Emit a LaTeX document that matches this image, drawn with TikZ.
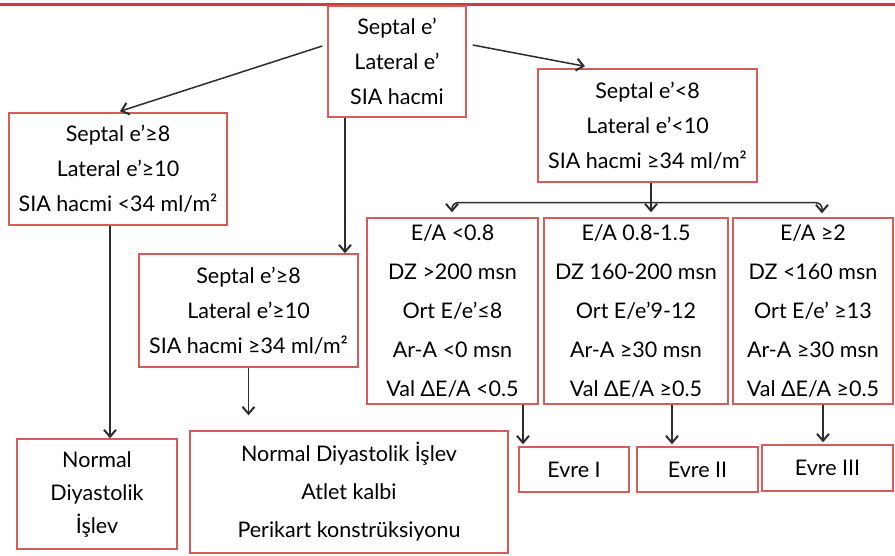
\documentclass[tikz,border=0pt]{standalone}
\usepackage{fontspec}
\setmainfont{Lato}
\usetikzlibrary{arrows.meta,calc}
\definecolor{boxred}{RGB}{214,92,92}
\definecolor{topred}{RGB}{200,62,62}
\definecolor{arrgray}{RGB}{45,45,45}
\begin{document}
\begin{tikzpicture}[x=1pt,y=-1pt,
  box/.style={draw=boxred, line width=1.4pt, fill=white, align=center, inner sep=0pt},
  f35/.style={font=\fontsize{21.5}{35}\selectfont},
  f39/.style={font=\fontsize{21.5}{39}\selectfont},
  f33/.style={font=\fontsize{21.5}{33}\selectfont},
  f38/.style={font=\fontsize{21.5}{38}\selectfont},
  arr/.style={draw=arrgray, line width=1.5pt, -{Straight Barb[length=7pt,width=12pt,line width=2pt]}}]
\fill[white] (0,0) rectangle (895,555);
\useasboundingbox (0,0) rectangle (895,555);
\draw[topred, line width=3pt] (0,4) -- (895,4);

\node[box,f35, minimum width=138, minimum height=111] (top) at (397,61.5) {Septal e’\\Lateral e’\\SIA hacmi};
\node[box,f35, minimum width=218, minimum height=112] (left) at (118,169) {Septal e’≥8\\Lateral e’≥10\\SIA hacmi <34 ml/m²};
\node[box,f35, minimum width=219, minimum height=113] (right) at (647.5,125.5) {Septal e’<8\\Lateral e’<10\\SIA hacmi ≥34 ml/m²};
\node[box,f35, minimum width=219, minimum height=113] (mid) at (248.5,310.5) {Septal e’≥8\\Lateral e’≥10\\SIA hacmi ≥34 ml/m²};

\node[box,f39, minimum width=171, minimum height=186] (A) at (452.5,311) {E/A <0.8\\DZ >200 msn\\Ort E/e’≤8\\Ar-A <0 msn\\Val ΔE/A <0.5};
\node[box,f39, minimum width=184, minimum height=186] (B) at (636,311) {E/A 0.8-1.5\\DZ 160-200 msn\\Ort E/e’9-12\\Ar-A ≥30 msn\\Val ΔE/A ≥0.5};
\node[box,f39, minimum width=160, minimum height=186] (C) at (813,311) {E/A ≥2\\DZ <160 msn\\Ort E/e’ ≥13\\Ar-A ≥30 msn\\Val ΔE/A ≥0.5};

\node[box,f35, minimum width=110, minimum height=45] (E1) at (574,469.5) {Evre I};
\node[box,f35, minimum width=121, minimum height=45] (E2) at (697.5,469.5) {Evre II};
\node[box,f35, minimum width=131, minimum height=46] (E3) at (827.5,468) {Evre III};

\node[box,f33, minimum width=160, minimum height=110] (normal) at (97,494) {Normal\\Diyastolik\\İşlev};
\node[box,f38, minimum width=318, minimum height=122] (big) at (349,492) {Normal Diyastolik İşlev\\Atlet kalbi\\Perikart konstrüksiyonu};

% connectors
\draw[arr] ($(top.west)+(-5,-15.5)$) -- ($(left.north)+(2,-1)$);
\draw[arr] ($(top.east)+(6,-16.5)$) -- ($(right.north)+(-62.5,-2)$);
\coordinate (t1) at ($(top.south)+(-52,0)$);
\draw[arr] (t1) -- (t1 |- mid.north);
\coordinate (l1) at ($(left.south)+(-8,0)$);
\draw[arr] (l1) -- (l1 |- normal.north);
\draw[arr] (mid.south) -- ($(mid.south |- big.north)+(0,-15)$);

\coordinate (r1) at ($(right.south)+(3.5,0)$);
\coordinate (hub) at ($(r1)+(0,20)$);
\draw[arr] (r1) -- ($(r1 |- B.north)+(0,-5)$);
\draw[arr, rounded corners=6] (hub) -| ($(A.north)+(-0.5,-5)$);
\draw[arr, rounded corners=6] (hub) -| ($(C.north)+(9,-4)$);

\coordinate (a1) at ($(A.south)+(70.5,0)$);
\draw[arr] (a1) -- ($(a1 |- E1.north)+(0,-2)$);
\coordinate (b1) at ($(B.south)+(36,0)$);
\draw[arr] (b1) -- ($(b1 |- E2.north)+(0,-2)$);
\coordinate (c1) at ($(C.south)+(10,0)$);
\draw[arr] (c1) -- ($(c1 |- E3.north)+(0,-2)$);
\end{tikzpicture}
\end{document}
